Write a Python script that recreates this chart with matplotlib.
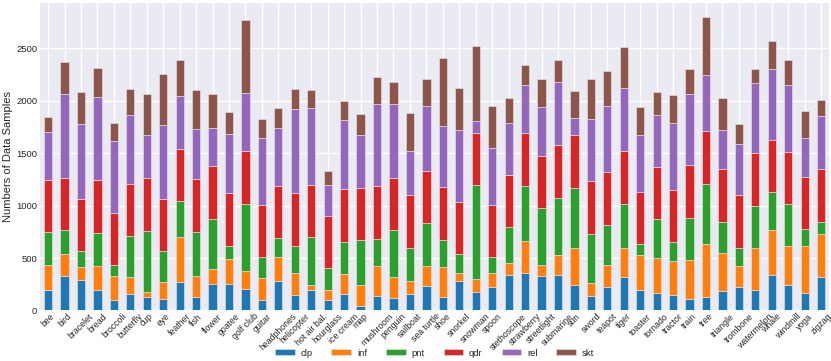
import numpy as np
import pandas as pd
import matplotlib
matplotlib.use("Agg")
import matplotlib.pyplot as plt

plt.style.use("seaborn-v0_8")
plt.rcParams["font.family"] = ["Liberation Sans", "DejaVu Sans"]

# classes shown on the x axis
classes = ["bee", "bird", "bracelet", "bread", "broccoli", "butterfly", "cup", "eye",
           "feather", "fish", "flower", "goatee", "golf club", "guitar", "headphones",
           "helicopter", "hot air bal.", "hourglass", "ice cream", "map", "mushroom",
           "penguin", "sailboat", "sea turtle", "shoe", "snorkel", "snowman", "spoon",
           "stethoscope", "strawberry", "streetlight", "submarine", "sun", "sword",
           "teapot", "tiger", "toaster", "tornado", "tractor", "train", "tree",
           "triangle", "trombone", "watermelon", "whale", "windmill", "yoga", "zigzag"]

# samples per domain
clp = [197, 331, 287, 191, 102, 156, 124, 105, 268, 127, 252, 252, 201, 99, 280, 143,
       191, 96, 156, 41, 134, 118, 159, 232, 127, 277, 172, 226, 341, 354, 325, 341,
       245, 137, 220, 315, 194, 166, 150, 105, 124, 182, 223, 191, 341, 242, 162, 318]
inf = [233, 210, 127, 236, 229, 166, 54, 169, 429, 198, 143, 235, 172, 207, 226, 214,
       51, 98, 188, 204, 293, 200, 118, 188, 287, 80, 124, 128, 108, 308, 111, 184,
       354, 121, 210, 281, 335, 331, 318, 376, 510, 363, 197, 401, 430, 373, 449, 411]
pnt = [318, 223, 150, 315, 99, 385, 583, 290, 344, 427, 481, 131, 646, 200, 182, 258,
       455, 207, 312, 424, 255, 446, 322, 411, 261, 178, 898, 156, 344, 529, 539, 551,
       570, 474, 388, 423, 105, 372, 185, 404, 573, 299, 176, 408, 356, 398, 163, 115]
qdr = [500] * 48
rel = [455, 800, 716, 793, 685, 656, 408, 700, 507, 477, 360, 560, 554, 637, 554, 802,
       733, 293, 659, 506, 786, 704, 423, 621, 586, 688, 112, 535, 494, 455, 461, 606,
       168, 590, 631, 605, 538, 497, 637, 682, 535, 379, 488, 672, 672, 636, 372, 513]
skt = [144, 309, 299, 274, 175, 248, 395, 487, 337, 373, 331, 217, 695, 182, 188, 198,
       172, 131, 182, 194, 255, 207, 360, 255, 643, 395, 716, 404, 238, 198, 268, 203,
       255, 382, 331, 389, 267, 213, 264, 239, 557, 299, 191, 127, 274, 243, 252, 149]

df = pd.DataFrame({"clp": clp, "inf": inf, "pnt": pnt, "qdr": qdr, "rel": rel, "skt": skt},
                  index=classes)
colors = ["tab:blue", "tab:orange", "tab:green", "tab:red", "tab:purple", "tab:brown"]

fig, ax = plt.subplots(figsize=(8.31, 3.61), dpi=100)
fig.subplots_adjust(left=0.048, right=0.998, top=0.992, bottom=0.14)

df.plot.bar(stacked=True, ax=ax, rot=45, legend=False, color=colors,
            edgecolor="#f0e6ea", linewidth=0.4)
ax.set_xlim(-0.5, len(classes) - 0.5)
ax.set_ylim(0, 2932)
ax.set_ylabel("Numbers of Data Samples", fontsize=8, labelpad=2)
ax.tick_params(axis="x", labelsize=6.3, pad=1)
ax.tick_params(axis="y", labelsize=6.8, pad=2)

handles, labels = ax.get_legend_handles_labels()
fig.legend(handles, labels, loc="center", ncol=6, frameon=False,
           bbox_to_anchor=(0.523, 0.022), fontsize=6.8, handlelength=2.1,
           handleheight=0.55, handletextpad=0.6, columnspacing=2.0)

plt.savefig("out.png", dpi=100)
